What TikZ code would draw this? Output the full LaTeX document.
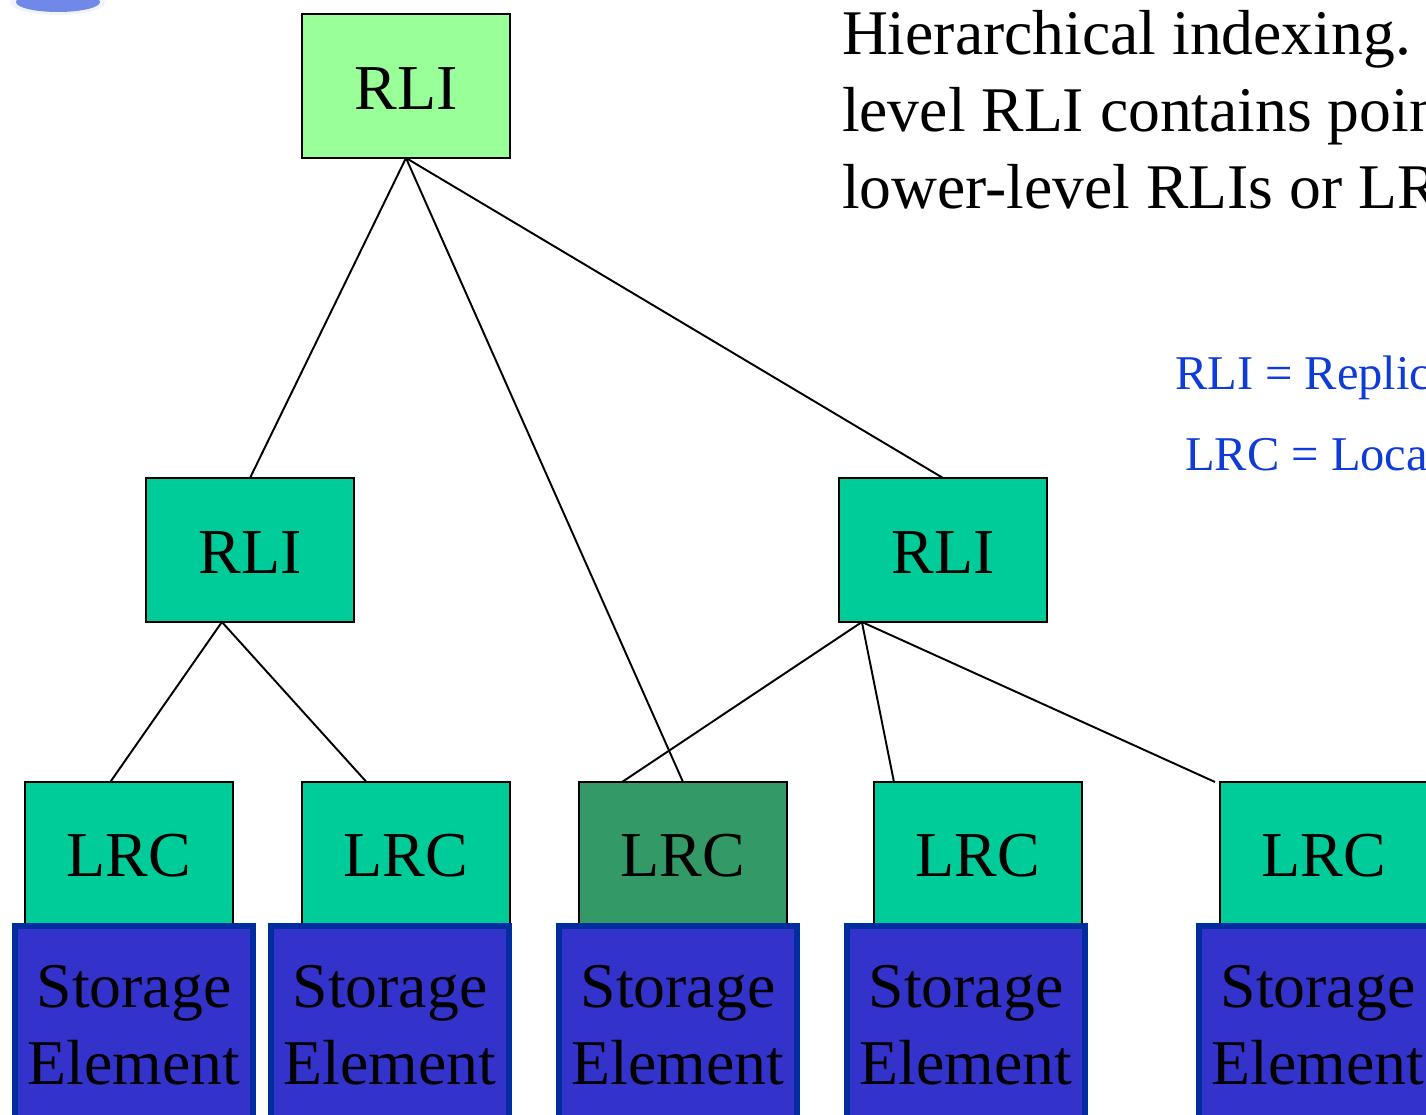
\documentclass[tikz,border=0pt]{standalone}
\usepackage{fontspec}
\setmainfont{Liberation Serif}
\usetikzlibrary{positioning,calc}
\definecolor{lightgreen}{HTML}{99FF99}
\definecolor{midgreen}{HTML}{00CC99}
\definecolor{darkgreen}{HTML}{339966}
\definecolor{storeblue}{HTML}{3333CC}
\definecolor{storeedge}{HTML}{002E9E}
\definecolor{noteblue}{HTML}{0F3BD6}
\definecolor{logoblue}{HTML}{7088E8}
\definecolor{logopale}{HTML}{F2F4FD}
\begin{document}
\begin{tikzpicture}[semithick, node distance=3.2cm]
\tikzstyle{box}=[draw=black,line width=0.55pt,minimum width=2.08cm,minimum height=1.44cm,outer sep=0pt,inner sep=0pt,text height=0.44cm,text depth=0pt,font=\fontsize{18.2}{22}\selectfont]
\tikzstyle{rli}=[box,fill=midgreen,text height=0.47cm]
\tikzstyle{lrc}=[box,fill=midgreen]
\tikzstyle{store}=[draw=storeedge,fill=storeblue,line width=1.6pt,minimum width=2.38cm,minimum height=1.98cm,outer sep=0pt,inner sep=0pt,align=center,font=\fontsize{18.15}{21.9}\selectfont]
\tikzstyle{note}=[anchor=base west,inner sep=0pt,text=noteblue,font=\fontsize{13.8}{16}\selectfont]
\useasboundingbox (0,0) rectangle (14.26,-11.15);
\clip (0,0) rectangle (14.26,-11.15);
% logo corner
\fill[logopale] (0.58,-0.02) ellipse (0.48 and 0.13);
\fill[logoblue] (0.58,-0.02) ellipse (0.42 and 0.10);
% index tree
\node[rli,fill=lightgreen] (T) at (4.06,-0.86) {RLI};
\node[rli] (A)[below=of T,xshift=-1.56cm] {RLI};
\node[rli] (B)[below=of T,xshift=5.37cm]  {RLI};
\node[lrc] (L1) at (1.29,-8.54) {LRC};
\node[lrc] (L2)[right=0.69cm of L1] {LRC};
\node[lrc,fill=darkgreen] (L3)[right=0.69cm of L2] {LRC};
\node[lrc] (L4)[right=0.87cm of L3] {LRC};
\node[lrc] (L5)[right=1.38cm of L4] {LRC};
% storage
\node[store] (S1) at (1.34,-10.25) {Storage\\Element};
\node[store] (S2)[right=0.18cm of S1] {Storage\\Element};
\node[store] (S3)[right=0.50cm of S2] {Storage\\Element};
\node[store] (S4)[right=0.50cm of S3] {Storage\\Element};
\node[store] (S5)[right=1.14cm of S4] {Storage\\Element};
% connection points
\coordinate (Aout) at ($(A.south west)!0.365!(A.south east)$);
\coordinate (Bout) at ($(B.south west)!0.11!(B.south east)$);
\coordinate (L1in) at ($(L1.north west)!0.41!(L1.north east)$);
\coordinate (L2in) at ($(L2.north west)!0.31!(L2.north east)$);
\coordinate (L3in) at ($(L3.north west)!0.207!(L3.north east)$);
\coordinate (L4in) at ($(L4.north west)!0.096!(L4.north east)$);
\coordinate (L5in) at ($(L5.north west)+(-0.05,0)$);
\path[draw=black,line width=0.55pt]
(T.south) edge (A.north)
          edge (L3.north)
          edge (B.north)
(Aout)    edge (L1in)
          edge (L2in)
(Bout)    edge (L3in)
          edge (L4in)
          edge (L5in);
% text
\node[anchor=north west,inner sep=0pt,align=left,font=\fontsize{18.1}{21.9}\selectfont] (H) at (8.41,-0.095)
  {Hierarchical indexing.\\level RLI contains poin\\lower-level RLIs or LR};
\node[note] (N1) at (11.74,-3.90) {RLI = Replic};
\node[note] (N2) at (11.84,-4.71) {LRC = Loca};
\end{tikzpicture}
\end{document}
